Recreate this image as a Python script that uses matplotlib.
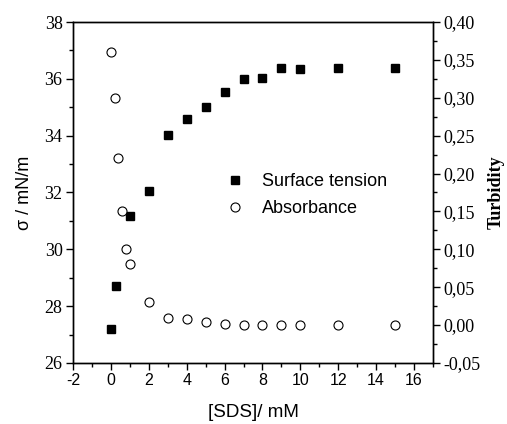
import numpy as np
import matplotlib
matplotlib.use("Agg")
import matplotlib.pyplot as plt
from matplotlib.ticker import MultipleLocator, FuncFormatter

plt.rcParams["axes.unicode_minus"] = False

# ── Data ──────────────────────────────────────────────────────────────────────
sds_st = [0, 0.25, 1, 2, 3, 4, 5, 6, 7, 8, 9, 10, 12, 15]
surface_tension = [27.18, 28.7, 31.17, 32.05, 34.03, 34.57, 35.02, 35.54,
                   35.98, 36.04, 36.39, 36.36, 36.38, 36.38]

sds_abs = [0, 0.2, 0.4, 0.6, 0.8, 1, 2, 3, 4, 5, 6, 7, 8, 9, 10, 12, 15]
turbidity = [0.360, 0.300, 0.220, 0.150, 0.100, 0.080, 0.030, 0.009, 0.0075,
             0.0035, 0.0013, 0.0, 0.0, 0.0, 0.0, 0.0, 0.0]

SERIF = "Liberation Serif"
SANS = "Liberation Sans"

fig = plt.figure(figsize=(5.07, 4.24), dpi=100)
ax = fig.add_axes([0.144, 0.144, 0.710, 0.804])
ax2 = ax.twinx()

h1, = ax.plot(sds_st, surface_tension, "s", color="black", markersize=5.5,
              linestyle="none", label="Surface tension")
h2, = ax2.plot(sds_abs, turbidity, "o", markerfacecolor="white",
               markeredgecolor="black", markeredgewidth=0.8, markersize=6.5,
               linestyle="none", label="Absorbance")

ax.set_xlim(-2, 17)
ax.set_ylim(26, 38)
ax2.set_ylim(-0.05, 0.40)

ax.xaxis.set_major_locator(MultipleLocator(2))
ax.xaxis.set_minor_locator(MultipleLocator(1))
ax.yaxis.set_major_locator(MultipleLocator(2))
ax.yaxis.set_minor_locator(MultipleLocator(1))
ax2.yaxis.set_major_locator(MultipleLocator(0.05))
ax2.yaxis.set_minor_locator(MultipleLocator(0.025))
ax2.yaxis.set_major_formatter(FuncFormatter(lambda v, p: f"{v:.2f}".replace(".", ",")))

for a in (ax, ax2):
    for s in a.spines.values():
        s.set_linewidth(1.0)
    a.tick_params(which="major", direction="out", length=5, width=1.0, pad=2.5)
    a.tick_params(which="minor", direction="out", length=3, width=1.0)

for lab in ax.get_xticklabels():
    lab.set_fontfamily(SANS)
    lab.set_fontsize(11.5)
for lab in ax.get_yticklabels():
    lab.set_fontfamily(SERIF)
    lab.set_fontsize(13)
for lab in ax2.get_yticklabels():
    lab.set_fontfamily(SERIF)
    lab.set_fontsize(13)

ax.set_xlabel("[SDS]/ mM", fontfamily=SANS, fontsize=13.5, labelpad=11)
ax.set_ylabel("σ / mN/m", fontfamily=SANS, fontsize=13, labelpad=8)
ax2.set_ylabel("Turbidity", fontfamily=SERIF, fontweight="bold", fontsize=13,
               labelpad=5)

leg = ax.legend(handles=[h1, h2], loc="upper left",
                bbox_to_anchor=(0.38, 0.605), frameon=False,
                prop={"family": SANS, "size": 13},
                handletextpad=1.0, labelspacing=0.55, handlelength=1.0)

plt.savefig("out.png", dpi=100)
plt.close()
